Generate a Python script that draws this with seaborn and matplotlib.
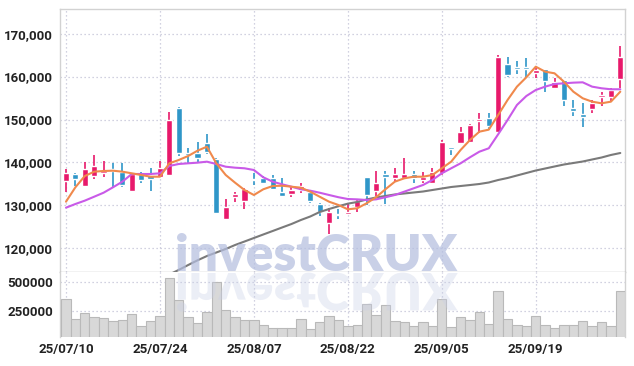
import numpy as np
import pandas as pd
import matplotlib
matplotlib.use('Agg')
import matplotlib.pyplot as plt
import seaborn as sns
from matplotlib.textpath import TextPath
from matplotlib.patches import PathPatch
from matplotlib.font_manager import FontProperties
from matplotlib.transforms import Affine2D

# trading days (KRX, 15 Aug closed)
days = pd.bdate_range('2025-07-10', '2025-10-02')
days = days[days != pd.Timestamp('2025-08-15')]
date_labels = [d.strftime('%y/%m/%d') for d in days]

open_ = [135750, 137300, 134600, 136850, 137550, 138450, 137850, 133400, 137300, 137150,
         136550, 137150, 152750, 142250, 142250, 144600, 140800, 126850, 132000, 131100,
         136050, 136300, 136300, 133200, 132650, 133600, 133200, 130350, 125800, 127900,
         128100, 129550, 136550, 133400, 137250, 136450, 136450, 137300, 135900, 135150,
         137450, 143600, 144450, 144700, 149750, 150300, 147150, 162950, 162300, 162000,
         160900, 161700, 157400, 159200, 152600, 151300, 152450, 155300, 155300, 159400]
close = [137600, 136100, 138450, 139200, 138100, 137950, 134750, 137300, 136000, 136200,
         138650, 149900, 142300, 141750, 141100, 142500, 128300, 129550, 132650, 133750,
         135900, 135300, 133750, 132200, 133600, 134500, 131100, 128550, 128550, 127750,
         128450, 131100, 132500, 135150, 136700, 137250, 137250, 136300, 136700, 137850,
         144700, 143250, 147050, 148750, 150050, 148500, 164650, 160400, 161850, 161850,
         161550, 159050, 158800, 154550, 152000, 150650, 153950, 155550, 156800, 164500]
high = [138400, 137600, 140200, 141650, 140300, 139800, 139950, 137400, 137700, 138650,
        140400, 151800, 153000, 143450, 144850, 146550, 141000, 131400, 133200, 134000,
        137450, 136850, 137100, 136450, 134350, 135300, 133400, 130600, 129300, 129100,
        130250, 131300, 136600, 138000, 137950, 138650, 141100, 138000, 137850, 138800,
        145250, 143700, 148350, 149000, 151600, 151600, 165050, 164500, 163700, 164250,
        162300, 161800, 159600, 159300, 154550, 153800, 154550, 156500, 157300, 167150]
low = [133100, 134500, 134300, 136100, 136700, 134200, 134200, 133200, 135150, 133400,
       136400, 137000, 141500, 139800, 140000, 142000, 128200, 126800, 130700, 129150,
       134750, 134900, 133500, 132000, 132000, 132800, 130500, 127500, 123250, 126750,
       127750, 128550, 130100, 132250, 130250, 135450, 136200, 135150, 135150, 134900,
       137000, 141750, 144200, 144500, 146800, 147550, 147000, 159850, 160600, 159600,
       159600, 156500, 157300, 153150, 150850, 148200, 151600, 153150, 154150, 157300]

ma5 = [130860, 134210, 136840, 137850, 138010, 138080, 137850, 137470, 137080, 136680,
       136680, 139800, 140570, 141500, 142740, 143670, 139800, 137080, 135280, 133580,
       132420, 133750, 134510, 134580, 134350, 134120, 133190, 132020, 130860, 130090,
       129080, 129320, 130490, 131890, 133750, 135520, 136300, 136680, 136680, 137080,
       138640, 140180, 142900, 145230, 147170, 147640, 151060, 154550, 157660, 159840,
       162310, 161150, 160770, 158820, 156490, 154950, 154160, 153780, 154160, 156490]
ma20 = [129460, 130320, 131100, 132020, 132950, 134210, 135520, 137310, 137310, 137310,
        137470, 139180, 139640, 139800, 139950, 140180, 139640, 139010, 138780, 138640,
        138240, 136540, 135520, 134910, 134350, 133750, 133420, 132950, 132420, 131900,
        131480, 131400, 131250, 131400, 131890, 132420, 133190, 133970, 134750, 135910,
        137470, 138640, 139800, 141200, 142510, 143300, 146560, 149890, 153390, 155480,
        156880, 157660, 158280, 158440, 158590, 158670, 157660, 157280, 157050, 157050]
ma60 = [103000, 104000, 105000, 106000, 107000, 108000, 109000, 110000, 111000, 112000,
        113000, 113900, 114960, 116100, 117200, 118200, 119020, 119840, 120770, 121580,
        122400, 123220, 124030, 124850, 125660, 126590, 127410, 128450, 129150, 129800,
        130400, 130790, 131370, 131840, 132190, 132540, 132770, 133000, 133230, 133580,
        133930, 134280, 134510, 134740, 134980, 135330, 135910, 136380, 136960, 137540,
        138120, 138590, 139060, 139520, 139870, 140220, 140690, 141150, 141740, 142200]

volume = [356300, 183900, 235600, 201200, 192500, 166700, 175300, 227000, 123600, 166700,
          206900, 537400, 347700, 201200, 152300, 247100, 502900, 261500, 201200, 175300,
          175300, 132200, 106300, 106300, 106300, 183900, 97700, 158000, 206900, 172400,
          120700, 135100, 313200, 218400, 301700, 163800, 155200, 120700, 155200, 120700,
          356300, 112100, 198300, 172400, 244300, 137900, 422400, 181000, 129300, 120700,
          206900, 129300, 103400, 129300, 129300, 163800, 120700, 155200, 120700, 422400]

tick_pos = [0, 10, 20, 30, 40, 50]
price_ticks = [120000, 130000, 140000, 150000, 160000, 170000]
vol_ticks = [250000, 500000]

UP = '#e8196b'
DOWN = '#2f96c8'

sns.set_style('white')
plt.rcParams['font.family'] = ['Roboto', 'DejaVu Sans']

fig = plt.figure(figsize=(6.34, 3.66), dpi=100)
ax = fig.add_axes([0.0946, 0.2568, 0.8912, 0.7186])
axv = fig.add_axes([0.0946, 0.0784, 0.8912, 0.1784])

idx = np.arange(len(close))
o = np.array(open_)
c = np.array(close)
cols = [UP if cc >= oo else DOWN for oo, cc in zip(o, c)]

# wicks and bodies
ax.vlines(idx, low, high, colors=cols, lw=1.2, zorder=3)
body = np.maximum(np.abs(c - o), 300)
ax.bar(idx, body, bottom=np.minimum(o, c), width=0.66, color=cols, zorder=4)

# moving averages
sns.lineplot(x=idx, y=ma60, color='#7a7a7a', lw=1.5, ax=ax, zorder=5)
sns.lineplot(x=idx, y=ma20, color='#c95ae8', lw=1.5, ax=ax, zorder=5)
sns.lineplot(x=idx, y=ma5, color='#f0894c', lw=1.5, ax=ax, zorder=6)

ax.set_xlim(-0.64, 59.5)
ax.set_ylim(114475, 175750)
ax.set_yticks(price_ticks)
ax.set_yticklabels([f'{v:,}' for v in price_ticks])
ax.set_xticks(tick_pos)
ax.set_xticklabels([])
ax.set_xlabel('')
ax.set_ylabel('')

# volume
sns.barplot(x=idx, y=volume, color='#d8d8d8', edgecolor='#b9b9b9', linewidth=0.8,
            width=1.0, saturation=1, ax=axv, zorder=3)
axv.set_xlim(-0.64, 59.5)
axv.set_ylim(25000, 589000)
axv.set_yticks(vol_ticks)
axv.set_yticklabels([str(v) for v in vol_ticks])
axv.set_xticks(tick_pos)
axv.set_xticklabels([date_labels[i] for i in tick_pos])
axv.set_xlabel('')
axv.set_ylabel('')

for a in (ax, axv):
    a.grid(True, linestyle=(0, (1, 2.2)), color='#c3c3d6', lw=0.9)
    a.set_axisbelow(True)
    a.tick_params(length=0, labelsize=9.5, labelcolor='#222222', pad=5)
    for lab in a.get_xticklabels() + a.get_yticklabels():
        lab.set_fontweight('bold')
    for s in a.spines.values():
        s.set_color('#d2d2d2')
        s.set_linewidth(1.0)
ax.spines['bottom'].set_color('#bdbdbd')
axv.spines['top'].set_visible(False)
axv.spines['bottom'].set_visible(False)
axv.tick_params(axis='x', pad=4)

# watermark + reflection
wm_font = FontProperties(family='Lato', weight='heavy')
fig.text(175 / 634, 1 - 271 / 366, 'investCRUX', fontproperties=wm_font, fontsize=37,
         color='#b4bedf', alpha=0.72, ha='left', va='baseline', zorder=10)
tp = TextPath((0, 0), 'investCRUX', size=37, prop=wm_font)
tr = Affine2D().scale(1 / 72, -1 / 72).translate(175 / 100, (366 - 273) / 100) + fig.dpi_scale_trans
fig.add_artist(PathPatch(tp, transform=tr, color='#c8cfe6', alpha=0.35, lw=0, zorder=10))

fig.savefig('out.png', dpi=100)
